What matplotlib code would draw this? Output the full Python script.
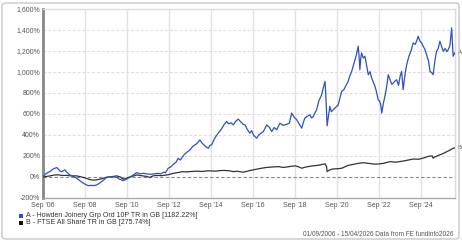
import matplotlib
matplotlib.use("Agg")
import matplotlib.pyplot as plt
from matplotlib.patches import FancyBboxPatch, Rectangle

plt.rcParams['font.family'] = ['Liberation Sans', 'DejaVu Sans']

# ---- data (fractional years, % total return) ----
howden_t = [2006.67, 2006.80, 2006.92, 2007.00, 2007.10, 2007.20, 2007.32, 2007.40, 2007.48, 2007.56,
            2007.64, 2007.71, 2007.80, 2007.95, 2008.10, 2008.27, 2008.45, 2008.59, 2008.70, 2008.82,
            2008.95, 2009.10, 2009.22, 2009.35, 2009.46, 2009.58, 2009.70, 2009.90, 2010.05, 2010.18,
            2010.30, 2010.49, 2010.60, 2010.73, 2010.90, 2011.13, 2011.30, 2011.45, 2011.60, 2011.80,
            2012.00, 2012.16, 2012.28, 2012.40, 2012.50, 2012.63, 2012.75, 2012.87, 2013.00, 2013.11,
            2013.20, 2013.27, 2013.40, 2013.55, 2013.67, 2013.80, 2013.95, 2014.05, 2014.14, 2014.25,
            2014.40, 2014.54, 2014.62, 2014.70, 2014.85, 2015.01, 2015.15, 2015.30, 2015.41, 2015.50,
            2015.62, 2015.73, 2015.85, 2015.97, 2016.10, 2016.20, 2016.29, 2016.40, 2016.52, 2016.60,
            2016.70, 2016.84, 2016.95, 2017.05, 2017.16, 2017.24, 2017.32, 2017.45, 2017.56, 2017.68,
            2017.80, 2017.95, 2018.10, 2018.27, 2018.40, 2018.51, 2018.62, 2018.75, 2018.88, 2018.99,
            2019.07, 2019.14, 2019.25, 2019.38, 2019.46, 2019.54, 2019.62, 2019.70, 2019.80, 2019.94,
            2020.02, 2020.10, 2020.14, 2020.20, 2020.25, 2020.33, 2020.40, 2020.49, 2020.60, 2020.73,
            2020.80, 2020.89, 2021.00, 2021.10, 2021.20, 2021.28, 2021.37, 2021.48, 2021.58, 2021.68,
            2021.72, 2021.76, 2021.80, 2021.84, 2021.92, 2022.00, 2022.08, 2022.16, 2022.24, 2022.32,
            2022.40, 2022.48, 2022.56, 2022.63, 2022.71, 2022.76, 2022.80, 2022.88, 2022.95, 2023.03,
            2023.11, 2023.20, 2023.28, 2023.35, 2023.43, 2023.51, 2023.60, 2023.68, 2023.75, 2023.82,
            2023.90, 2023.99, 2024.10, 2024.20, 2024.30, 2024.40, 2024.48, 2024.54, 2024.62, 2024.70,
            2024.78, 2024.86, 2024.95, 2025.03, 2025.10, 2025.18, 2025.25, 2025.33, 2025.41, 2025.49,
            2025.57, 2025.65, 2025.73, 2025.82, 2025.90, 2025.97, 2026.05, 2026.13, 2026.20, 2026.29]
howden_v = [0, 30, 45, 50, 70, 80, 89, 75, 55, 50,
            60, 67, 45, 19, 5, -12, -40, -60, -72, -83,
            -80, -82, -76, -60, -44, -25, -3, 2, 0, -3,
            -20, -35, -25, -12, 10, 41, 30, 35, 29, 25,
            30, 35, 28, 45, 40, 83, 95, 120, 140, 178,
            160, 178, 215, 240, 257, 290, 310, 330, 352, 320,
            290, 273, 300, 305, 370, 416, 450, 500, 527, 505,
            515, 495, 530, 549, 520, 500, 495, 450, 416, 440,
            395, 368, 400, 415, 431, 460, 495, 470, 431, 470,
            448, 511, 490, 500, 511, 606, 570, 543, 500, 463,
            520, 559, 575, 590, 560, 574, 610, 638, 720, 781,
            850, 908, 760, 486, 560, 670, 620, 638, 660, 686,
            740, 812, 830, 870, 908, 960, 1003, 1080, 1150, 1241,
            1150, 1019, 1120, 1178, 1130, 1146, 1060, 971, 1000, 940,
            900, 860, 800, 733, 717, 680, 606, 700, 765, 850,
            971, 920, 880, 892, 910, 924, 870, 960, 1003, 829,
            960, 1067, 1150, 1200, 1273, 1260, 1300, 1336, 1290, 1273,
            1240, 1210, 1150, 1100, 1003, 990, 971, 1100, 1194, 1220,
            1289, 1240, 1194, 1220, 1190, 1210, 1250, 1416, 1146, 1182.22]

ftse_t = [2006.67, 2006.85, 2007.00, 2007.20, 2007.40, 2007.60, 2007.80, 2008.00, 2008.27, 2008.45,
          2008.60, 2008.75, 2008.90, 2009.05, 2009.20, 2009.35, 2009.50, 2009.70, 2009.85, 2010.00,
          2010.18, 2010.35, 2010.49, 2010.65, 2010.80, 2011.00, 2011.13, 2011.35, 2011.60, 2011.75,
          2011.90, 2012.10, 2012.30, 2012.60, 2012.90, 2013.10, 2013.30, 2013.50, 2013.75, 2014.00,
          2014.25, 2014.50, 2014.70, 2014.90, 2015.10, 2015.30, 2015.55, 2015.75, 2015.90, 2016.10,
          2016.20, 2016.35, 2016.50, 2016.75, 2017.00, 2017.30, 2017.60, 2017.90, 2018.10, 2018.30,
          2018.50, 2018.70, 2018.85, 2018.99, 2019.20, 2019.50, 2019.75, 2019.95, 2020.10, 2020.17,
          2020.20, 2020.30, 2020.45, 2020.70, 2020.90, 2021.20, 2021.45, 2021.70, 2021.95, 2022.20,
          2022.45, 2022.70, 2022.90, 2023.20, 2023.45, 2023.80, 2024.05, 2024.30, 2024.55, 2024.80,
          2025.00, 2025.20, 2025.25, 2025.32, 2025.50, 2025.70, 2025.90, 2026.05, 2026.20, 2026.29]
ftse_v = [0, 5, 10, 18, 20, 14, 15, 10, 10, 2,
          -5, -15, -25, -30, -29, -22, -15, -3, 0, 5,
          10, 0, -22, -12, 0, 10, 19, 12, 5, -5,
          10, 15, 12, 20, 35, 42, 50, 48, 52, 55,
          52, 58, 57, 55, 60, 62, 58, 50, 55, 48,
          45, 52, 60, 70, 80, 90, 95, 98, 90, 95,
          102, 105, 95, 83, 95, 105, 110, 118, 124, 100,
          50, 65, 75, 78, 83, 110, 120, 130, 135, 128,
          122, 124, 130, 146, 140, 150, 160, 170, 168, 180,
          195, 200, 178, 190, 205, 220, 240, 255, 273, 275.74]

year_ticks = [2006.667 + 2 * i for i in range(10)]
year_labels = ["Sep '06", "Sep '08", "Sep '10", "Sep '12", "Sep '14",
               "Sep '16", "Sep '18", "Sep '20", "Sep '22", "Sep '24"]
y_ticks = [-200, 0, 200, 400, 600, 800, 1000, 1200, 1400, 1600]
y_labels = ["-200%", "0%", "200%", "400%", "600%", "800%", "1,000%", "1,200%", "1,400%", "1,600%"]

legend_labels = ["A - Howden Joinery Grp Ord 10P TR in GB [1182.22%]",
                 "B - FTSE All Share TR in GB [275.74%]"]
footer = "01/09/2006 - 15/04/2026 Data from FE fundinfo2026"

BLUE = "#3050c0"
BLACK = "#333333"

W, H = 462, 241
fig = plt.figure(figsize=(W / 100, H / 100), dpi=100)
fig.patch.set_facecolor("white")

# outer frame
frame = FancyBboxPatch((2 / W, 2 / H), (W - 5) / W, (H - 5) / H,
                       boxstyle="round,pad=0,rounding_size=0.01",
                       transform=fig.transFigure, fill=False,
                       edgecolor="#c8c8c8", linewidth=1.0)
fig.patches.append(frame)

left, right, top, bottom = 43, 455, 8.5, 198
ax = fig.add_axes([left / W, 1 - bottom / H, (right - left) / W, (bottom - top) / H])
ax.set_xlim(2006.667, 2026.29)
ax.set_ylim(-200, 1600)

ax.set_xticks(year_ticks)
ax.set_xticklabels(year_labels)
ax.set_yticks(y_ticks)
ax.set_yticklabels(y_labels)
ax.tick_params(axis='both', length=0, labelsize=5, colors="#555555", pad=2)
ax.tick_params(axis='x', pad=3)

for t in year_ticks[1:]:
    ax.axvline(t, color="#e2e2e2", lw=1.0, zorder=0)
for v in y_ticks[1:-1]:
    if v == 0:
        continue
    ax.axhline(v, color="#dcdcdc", lw=0.7, ls=(0, (3, 2)), zorder=0)
ax.axhline(0, color="#888888", lw=0.8, ls=(0, (3, 2)), zorder=1)

for s in ["top", "right"]:
    ax.spines[s].set_color("#dddddd")
    ax.spines[s].set_linewidth(1.0)
ax.spines["bottom"].set_color("#aaaaaa")
ax.spines["bottom"].set_linewidth(1.0)
ax.spines["left"].set_color("#888888")
ax.spines["left"].set_linewidth(2.0)

ax.plot(ftse_t, ftse_v, color=BLACK, lw=0.9, zorder=3)
ax.plot(howden_t, howden_v, color=BLUE, lw=0.9, zorder=4)

ax.annotate("A", (howden_t[-1], howden_v[-1]), xytext=(2, 0), textcoords="offset points",
            fontsize=4.5, color="#333333", va="center", ha="left", annotation_clip=False)
ax.annotate("B", (ftse_t[-1], ftse_v[-1]), xytext=(2, 0), textcoords="offset points",
            fontsize=4.5, color="#333333", va="center", ha="left", annotation_clip=False)

# legend
for i, (lab, col) in enumerate(zip(legend_labels, [BLUE, "#111111"])):
    yc = 215.5 + i * 7
    fig.patches.append(Rectangle((19 / W, 1 - (yc + 2) / H), 4 / W, 4 / H,
                                 transform=fig.transFigure, facecolor=col, edgecolor="none"))
    fig.text(26 / W, 1 - yc / H, lab, fontsize=5, color="#333333", va="center", ha="left")

fig.text(453 / W, 1 - 234 / H, footer, fontsize=4.7, color="#555555", va="center", ha="right")

fig.savefig("out.png", dpi=100)
